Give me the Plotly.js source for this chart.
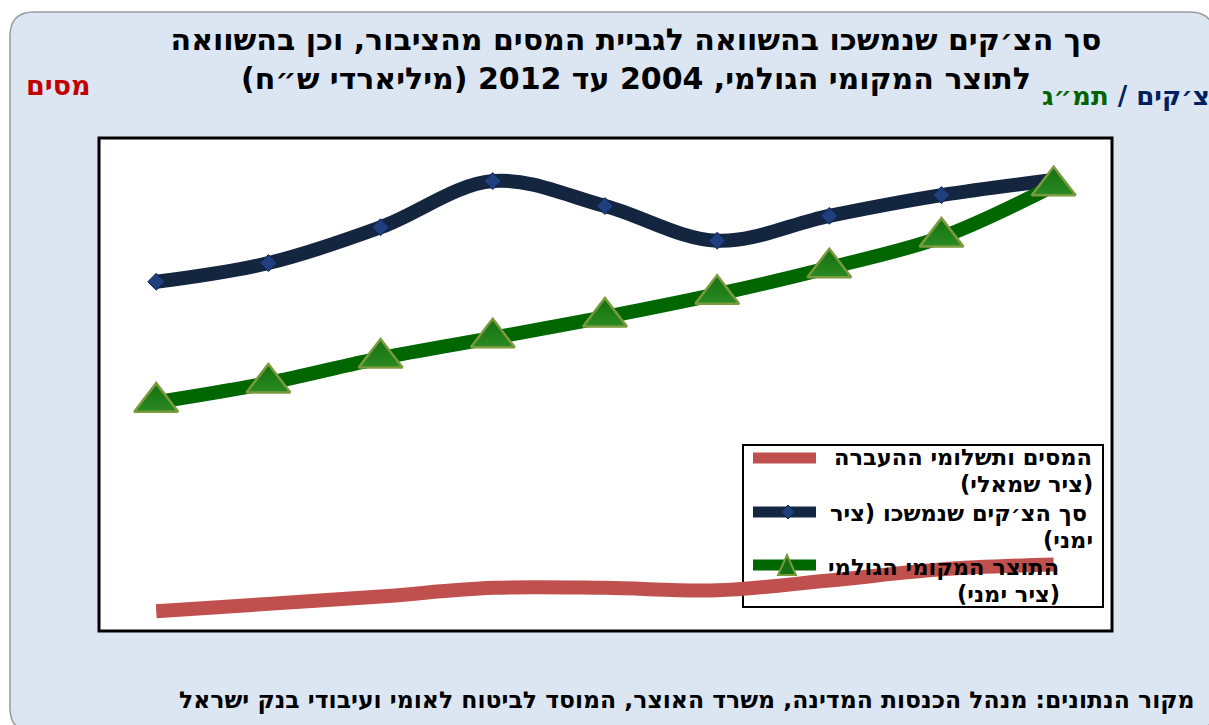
<!DOCTYPE html>
<html>
<head>
<meta charset="utf-8">
<script src="https://cdn.plot.ly/plotly-3.0.1.min.js"></script>
<style>html,body{margin:0;padding:0;background:#fff;}#chart{width:1209px;height:725px;}</style>
</head>
<body>
<div id="chart"></div>
<script>
// ---- data ----
const years = [2004, 2005, 2006, 2007, 2008, 2009, 2010, 2011, 2012];
const taxes = [176, 182, 188, 195, 195, 193, 201, 210, 214];        // left axis
const checks = [773, 809, 878, 967, 919, 852, 900, 940, 969];       // right axis
const gdp = [541, 578, 626, 665, 705, 749, 800, 859, 958];          // right axis

const seriesNames = ['המסים ותשלומי ההעברה (ציר שמאלי)', 'סך הצ׳קים שנמשכו (ציר ימני)', 'התוצר המקומי הגולמי (ציר ימני)'];
const titleLines = ['סך הצ׳קים שנמשכו בהשוואה לגביית המסים מהציבור, וכן בהשוואה', 'לתוצר המקומי הגולמי, 2004 עד 2012 (מיליארדי ש״ח)'];
const sourceText = 'מקור הנתונים: מנהל הכנסות המדינה, משרד האוצר, המוסד לביטוח לאומי ועיבודי בנק ישראל';
const leftAxisLabel = 'מסים';
const rightAxisLabelA = 'צ׳קים /';
const rightAxisLabelB = 'תמ״ג';
const legendLines = [['המסים ותשלומי ההעברה', '(ציר שמאלי)'], ['סך הצ׳קים שנמשכו (ציר', 'ימני)'], ['התוצר המקומי הגולמי', '(ציר ימני)']];

// ---- geometry helpers (pixel -> paper) ----
const L = 99, R = 1112, T = 138, B = 631;
const px = x => (x - L) / (R - L);
const py = y => (B - y) / (B - T);
const RLM = '\u200F';
const rtl = s => RLM + s + RLM;

const COL_RED = '#C0504D', COL_NAVY = '#14263F', COL_GREEN = '#006600';
const FONT = 'DejaVu Sans, Liberation Sans, Arial, sans-serif';

function roundRect(x0, y0, x1, y1, r) {
  const P = (x, y) => px(x) + ',' + py(y);
  return 'M' + P(x0 + r, y0) + ' L' + P(x1 - r, y0) + ' Q' + P(x1, y0) + ' ' + P(x1, y0 + r) +
    ' L' + P(x1, y1 - r) + ' Q' + P(x1, y1) + ' ' + P(x1 - r, y1) +
    ' L' + P(x0 + r, y1) + ' Q' + P(x0, y1) + ' ' + P(x0, y1 - r) +
    ' L' + P(x0, y0 + r) + ' Q' + P(x0, y0) + ' ' + P(x0 + r, y0) + ' Z';
}

const traces = [
  {x: years, y: taxes, name: seriesNames[0], type: 'scatter', mode: 'lines', yaxis: 'y',
   line: {color: COL_RED, width: 14, shape: 'spline', smoothing: 1}, showlegend: false},
  {x: years, y: checks, name: seriesNames[1], type: 'scatter', mode: 'lines+markers', yaxis: 'y2',
   line: {color: COL_NAVY, width: 14, shape: 'spline', smoothing: 1},
   marker: {symbol: 'diamond', size: 13, color: '#1F3F7F', line: {color: '#0E2450', width: 1}}, showlegend: false},
  {x: years, y: gdp, name: seriesNames[2], type: 'scatter', mode: 'lines+markers', yaxis: 'y2',
   line: {color: COL_GREEN, width: 14, shape: 'spline', smoothing: 1},
   marker: {symbol: 'triangle-up', size: 38, color: '#146F10', gradient: {type: 'vertical', color: '#2A8A22'},
            line: {color: '#7A9A3C', width: 2.5}}, showlegend: false}
];

const shapes = [
  // outer rounded panel
  {type: 'path', xref: 'paper', yref: 'paper', layer: 'below', path: roundRect(10, 12, 1214, 732, 24),
   fillcolor: '#DCE6F2', line: {color: '#9A9A9A', width: 1.5}},
  // plot area
  {type: 'rect', xref: 'paper', yref: 'paper', layer: 'below', x0: 0, x1: 1, y0: 0, y1: 1,
   fillcolor: '#FFFFFF', line: {color: '#000000', width: 3}},
  // legend box
  {type: 'rect', xref: 'paper', yref: 'paper', layer: 'below', x0: px(743), x1: px(1103), y0: py(607), y1: py(445),
   fillcolor: '#FFFFFF', line: {color: '#000000', width: 2}},
  // legend samples
  {type: 'line', xref: 'paper', yref: 'paper', layer: 'below', x0: px(753), x1: px(816), y0: py(458), y1: py(458),
   line: {color: COL_RED, width: 11}},
  {type: 'line', xref: 'paper', yref: 'paper', layer: 'below', x0: px(753), x1: px(816), y0: py(512), y1: py(512),
   line: {color: COL_NAVY, width: 11}},
  {type: 'path', xref: 'paper', yref: 'paper', layer: 'below',
   path: 'M' + px(788) + ',' + py(505) + ' L' + px(795) + ',' + py(512) + ' L' + px(788) + ',' + py(519) + ' L' + px(781) + ',' + py(512) + ' Z',
   fillcolor: '#1F3F7F', line: {color: '#0E2450', width: 1}},
  {type: 'line', xref: 'paper', yref: 'paper', layer: 'below', x0: px(753), x1: px(816), y0: py(565), y1: py(565),
   line: {color: COL_GREEN, width: 11}},
  {type: 'path', xref: 'paper', yref: 'paper', layer: 'below',
   path: 'M' + px(787) + ',' + py(555) + ' L' + px(796) + ',' + py(575) + ' L' + px(778) + ',' + py(575) + ' Z',
   fillcolor: '#146F10', line: {color: '#7A9A3C', width: 2}}
];

const legendAnn = [];
const legendPos = [[1094, 457, 1095, 484], [1089, 513, 1095, 540], [1061, 567, 1062, 594]];
legendLines.forEach((pair, i) => {
  const p = legendPos[i];
  legendAnn.push({xref: 'paper', yref: 'paper', x: px(p[0]), y: py(p[1]), xanchor: 'right', yanchor: 'middle',
    text: rtl(pair[0]), showarrow: false, font: {family: FONT, size: 22.5, color: '#000', weight: 'bold'}});
  legendAnn.push({xref: 'paper', yref: 'paper', x: px(p[2]), y: py(p[3]), xanchor: 'right', yanchor: 'middle',
    text: rtl(pair[1]), showarrow: false, font: {family: FONT, size: 22.5, color: '#000', weight: 'bold'}});
});

const annotations = [
  {xref: 'paper', yref: 'paper', x: px(58), y: py(85), xanchor: 'center', yanchor: 'middle',
   text: rtl(leftAxisLabel), showarrow: false, font: {family: FONT, size: 27, color: '#C00000', weight: 'bold'}},
  {xref: 'paper', yref: 'paper', x: px(1212), y: py(96), xanchor: 'right', yanchor: 'middle',
   text: '<span style="color:#002060">' + RLM + rightAxisLabelA + '</span> <span style="color:#006400">' + rightAxisLabelB + RLM + '</span>',
   showarrow: false, font: {family: FONT, size: 26, color: '#002060', weight: 'bold'}},
  {xref: 'paper', yref: 'paper', x: px(1197), y: py(700), xanchor: 'right', yanchor: 'middle',
   text: rtl(sourceText), showarrow: false, font: {family: FONT, size: 23.5, color: '#000', weight: 'bold'}}
].concat(legendAnn);

const layout = {
  width: 1209, height: 725,
  margin: {l: L, r: 1209 - R, t: T, b: 725 - B, pad: 0},
  paper_bgcolor: '#FFFFFF', plot_bgcolor: 'rgba(0,0,0,0)',
  title: {text: rtl(titleLines[0]) + '<br>' + rtl(titleLines[1]), xref: 'container', yref: 'container',
          x: 636 / 1209, xanchor: 'center', y: 1 - 50 / 725, yanchor: 'top',
          font: {family: FONT, size: 30, color: '#000', weight: 'bold'}},
  xaxis: {range: [2003.49, 2012.52], visible: false, showgrid: false, zeroline: false, fixedrange: true},
  yaxis: {range: [160, 560], visible: false, showgrid: false, zeroline: false},
  yaxis2: {range: [100, 1050], overlaying: 'y', side: 'right', visible: false, showgrid: false, zeroline: false},
  showlegend: false,
  shapes: shapes,
  annotations: annotations
};

Plotly.newPlot('chart', traces, layout, {displayModeBar: false, staticPlot: true});
</script>
</body>
</html>
